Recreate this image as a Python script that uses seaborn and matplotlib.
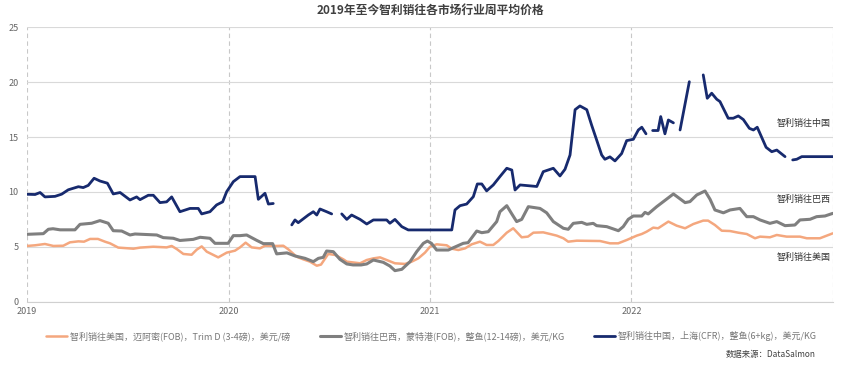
import numpy as np
import pandas as pd
import matplotlib
matplotlib.use("Agg")
import matplotlib.pyplot as plt
import seaborn as sns

# 时间轴用小数年份表示（2019.0 = 2019年初）
us_t = [2019.000, 2019.040, 2019.089, 2019.131, 2019.180, 2019.213, 2019.255, 2019.283, 2019.313, 2019.352,
        2019.387, 2019.412, 2019.453, 2019.528, 2019.561, 2019.627, 2019.693, 2019.718, 2019.743, 2019.776,
        2019.817, 2019.842, 2019.867, 2019.892, 2019.925, 2019.949, 2019.991, 2020.032, 2020.057, 2020.085,
        2020.115, 2020.156, 2020.181, 2020.239, 2020.272, 2020.297, 2020.338, 2020.371, 2020.404, 2020.438,
        2020.459, 2020.495, 2020.529, 2020.570, 2020.587, 2020.653, 2020.686, 2020.719, 2020.752, 2020.785,
        2020.826, 2020.876, 2020.909, 2020.942, 2020.975, 2021.000, 2021.033, 2021.083, 2021.108, 2021.141,
        2021.174, 2021.207, 2021.248, 2021.281, 2021.314, 2021.339, 2021.381, 2021.413, 2021.455, 2021.486,
        2021.513, 2021.562, 2021.596, 2021.629, 2021.662, 2021.686, 2021.728, 2021.844, 2021.893, 2021.934,
        2021.976, 2022.026, 2022.051, 2022.075, 2022.108, 2022.132, 2022.183, 2022.224, 2022.266, 2022.307,
        2022.356, 2022.380, 2022.414, 2022.448, 2022.489, 2022.530, 2022.572, 2022.613, 2022.638, 2022.687,
        2022.721, 2022.770, 2022.836, 2022.870, 2022.935, 2022.969, 2022.999]
us_v = [5.08, 5.14, 5.26, 5.08, 5.10, 5.41, 5.50, 5.47, 5.72, 5.72,
        5.47, 5.32, 4.93, 4.83, 4.93, 5.01, 4.95, 5.08, 4.80, 4.35,
        4.28, 4.74, 5.04, 4.56, 4.26, 4.04, 4.47, 4.65, 4.95, 5.38,
        4.95, 4.86, 5.10, 5.08, 5.10, 4.77, 4.10, 3.86, 3.65, 3.28,
        3.38, 4.35, 4.26, 3.86, 3.65, 3.50, 3.80, 3.95, 4.04, 3.80,
        3.50, 3.44, 3.65, 3.95, 4.47, 5.01, 5.23, 5.14, 4.83, 4.71,
        4.86, 5.23, 5.47, 5.17, 5.17, 5.53, 6.29, 6.69, 5.87, 5.93,
        6.29, 6.32, 6.17, 6.02, 5.78, 5.47, 5.56, 5.53, 5.32, 5.32,
        5.62, 6.02, 6.17, 6.38, 6.75, 6.69, 7.30, 6.93, 6.69, 7.08,
        7.39, 7.39, 6.99, 6.47, 6.44, 6.29, 6.17, 5.78, 5.93, 5.87,
        6.08, 5.93, 5.93, 5.78, 5.78, 6.02, 6.23]

br_t = [2019.000, 2019.081, 2019.106, 2019.129, 2019.164, 2019.238, 2019.263, 2019.321, 2019.362, 2019.403,
        2019.428, 2019.470, 2019.511, 2019.536, 2019.644, 2019.676, 2019.726, 2019.759, 2019.825, 2019.859,
        2019.908, 2019.933, 2019.998, 2020.024, 2020.057, 2020.090, 2020.140, 2020.173, 2020.219, 2020.239,
        2020.290, 2020.330, 2020.380, 2020.421, 2020.446, 2020.470, 2020.487, 2020.520, 2020.553, 2020.587,
        2020.618, 2020.658, 2020.686, 2020.719, 2020.768, 2020.801, 2020.826, 2020.860, 2020.901, 2020.934,
        2020.967, 2020.987, 2021.007, 2021.033, 2021.091, 2021.116, 2021.165, 2021.189, 2021.232, 2021.257,
        2021.289, 2021.331, 2021.347, 2021.381, 2021.406, 2021.430, 2021.455, 2021.488, 2021.546, 2021.579,
        2021.612, 2021.662, 2021.686, 2021.711, 2021.753, 2021.778, 2021.810, 2021.827, 2021.877, 2021.910,
        2021.935, 2021.959, 2021.984, 2022.009, 2022.051, 2022.067, 2022.083, 2022.125, 2022.158, 2022.208,
        2022.266, 2022.290, 2022.324, 2022.365, 2022.390, 2022.414, 2022.456, 2022.489, 2022.538, 2022.572,
        2022.605, 2022.638, 2022.687, 2022.721, 2022.762, 2022.811, 2022.836, 2022.886, 2022.919, 2022.960,
        2022.999]
br_v = [6.14, 6.20, 6.60, 6.65, 6.55, 6.55, 7.05, 7.15, 7.39, 7.15,
        6.47, 6.44, 6.08, 6.17, 6.08, 5.84, 5.78, 5.58, 5.68, 5.87,
        5.78, 5.32, 5.32, 6.02, 6.02, 6.08, 5.59, 5.29, 5.29, 4.36,
        4.45, 4.17, 3.95, 3.65, 3.95, 4.04, 4.62, 4.56, 3.86, 3.44,
        3.35, 3.35, 3.44, 3.80, 3.59, 3.25, 2.83, 2.95, 3.65, 4.56,
        5.32, 5.53, 5.32, 4.71, 4.71, 4.92, 5.32, 5.38, 6.44, 6.29,
        6.38, 7.30, 8.20, 8.75, 8.00, 7.30, 7.50, 8.66, 8.50, 8.10,
        7.30, 6.69, 6.60, 7.14, 7.23, 7.05, 7.14, 6.93, 6.84, 6.63,
        6.47, 6.84, 7.51, 7.81, 7.81, 8.14, 8.00, 8.66, 9.12, 9.82,
        9.03, 9.12, 9.73, 10.09, 9.33, 8.36, 8.10, 8.36, 8.50, 7.75,
        7.75, 7.45, 7.14, 7.30, 6.93, 6.99, 7.45, 7.51, 7.75, 7.81,
        8.05]

# 中国线有缺失周，用 NaN 断开
cn_t = [2019.000, 2019.040, 2019.065, 2019.089, 2019.139, 2019.172, 2019.205, 2019.255, 2019.279, 2019.304,
        2019.333, 2019.362, 2019.399, 2019.428, 2019.462, 2019.511, 2019.544, 2019.561, 2019.602, 2019.627,
        2019.660, 2019.693, 2019.718, 2019.759, 2019.809, 2019.850, 2019.867, 2019.908, 2019.941, 2019.971,
        2019.991, 2020.024, 2020.057, 2020.132, 2020.148, 2020.181, 2020.198, 2020.222, 2020.260,
        2020.314, 2020.330, 2020.346, 2020.396, 2020.421, 2020.438, 2020.454, 2020.487, 2020.512, 2020.540,
        2020.562, 2020.587, 2020.611, 2020.653, 2020.686, 2020.719, 2020.785, 2020.801, 2020.826, 2020.860,
        2020.892, 2021.108, 2021.124, 2021.149, 2021.182, 2021.215, 2021.235, 2021.257, 2021.281, 2021.314,
        2021.347, 2021.381, 2021.406, 2021.422, 2021.447, 2021.530, 2021.562, 2021.612, 2021.645, 2021.670,
        2021.695, 2021.720, 2021.744, 2021.778, 2021.802, 2021.827, 2021.852, 2021.868, 2021.893, 2021.918,
        2021.951, 2021.976, 2022.009, 2022.034, 2022.051, 2022.072, 2022.088,
        2022.105, 2022.132, 2022.145, 2022.166, 2022.183, 2022.208, 2022.225,
        2022.241, 2022.287, 2022.320,
        2022.356, 2022.376, 2022.398, 2022.423, 2022.439, 2022.480, 2022.505, 2022.530, 2022.555, 2022.585,
        2022.605, 2022.624, 2022.668, 2022.696, 2022.721, 2022.762, 2022.780,
        2022.800, 2022.820, 2022.845, 2022.999]
cn_v = [9.79, 9.77, 9.95, 9.55, 9.60, 9.80, 10.20, 10.48, 10.40, 10.60,
        11.25, 11.00, 10.80, 9.82, 9.95, 9.27, 9.55, 9.30, 9.70, 9.70,
        9.03, 9.10, 9.55, 8.20, 8.50, 8.50, 8.00, 8.20, 8.82, 9.10,
        10.03, 10.94, 11.40, 11.40, 9.33, 9.88, 8.90, 8.95, np.nan,
        7.00, 7.45, 7.20, 7.90, 8.20, 7.90, 8.45, 8.20, 8.00, np.nan,
        8.00, 7.50, 7.90, 7.50, 7.08, 7.45, 7.45, 7.15, 7.50, 6.84,
        6.54, 6.54, 8.36, 8.75, 8.90, 9.57, 10.73, 10.73, 10.10, 10.64,
        11.40, 12.16, 12.00, 10.18, 10.64, 10.50, 11.85, 12.16, 11.46, 12.07,
        13.37, 17.50, 17.84, 17.50, 16.10, 14.74, 13.37, 12.98, 13.20, 12.83,
        13.50, 14.68, 14.80, 15.65, 15.90, 15.30, np.nan,
        15.60, 15.60, 16.87, 15.30, 16.56, 16.30, np.nan,
        15.65, 20.05, np.nan,
        20.67, 18.54, 19.00, 18.45, 18.24, 16.72, 16.72, 16.93, 16.60, 15.80,
        15.65, 15.90, 14.07, 13.67, 13.82, 13.22, np.nan,
        12.92, 12.98, 13.22, 13.22]

years = [2019, 2020, 2021, 2022, 2023]
year_labels = ["2019", "2020", "2021", "2022", ""]

us_name = "智利销往美国，迈阿密(FOB)，Trim D (3-4磅)，美元/磅"
br_name = "智利销往巴西，蒙特港(FOB)，整鱼(12-14磅)，美元/KG"
cn_name = "智利销往中国，上海(CFR)，整鱼(6+kg)，美元/KG"

c_us = "#F4A77E"
c_br = "#7F7F7F"
c_cn = "#172A6E"

sns.set_style("white")
plt.rcParams["font.family"] = ["Noto Sans CJK SC", "DejaVu Sans"]

df_us = pd.DataFrame({"t": us_t, "v": us_v})
df_br = pd.DataFrame({"t": br_t, "v": br_v})
df_cn = pd.DataFrame({"t": cn_t, "v": cn_v})
df_cn["seg"] = df_cn["v"].isna().cumsum()
df_cn = df_cn.dropna()

fig = plt.figure(figsize=(8.6, 3.7), dpi=100)
ax = fig.add_axes([0.0314, 0.1846, 0.9372, 0.7414])

sns.lineplot(data=df_us, x="t", y="v", color=c_us, lw=1.8, ax=ax, label=us_name)
sns.lineplot(data=df_br, x="t", y="v", color=c_br, lw=2.2, ax=ax, label=br_name)
sns.lineplot(data=df_cn, x="t", y="v", units="seg", estimator=None, color=c_cn, lw=2.0, ax=ax)
ax.plot([], [], color=c_cn, lw=2.0, label=cn_name)

ax.set_xlim(2019, 2023)
ax.set_ylim(0, 25)
ax.set_xticks(years)
ax.set_xticklabels(year_labels)
ax.set_yticks([0, 5, 10, 15, 20, 25])
ax.set_xlabel("")
ax.set_ylabel("")
ax.grid(axis="y", color="#D9D9D9", lw=0.8)
ax.grid(axis="x", color="#C8C8C8", lw=0.8, ls=(0, (4, 3)))
ax.set_axisbelow(True)
for s in ["top", "right", "left"]:
    ax.spines[s].set_visible(False)
ax.spines["bottom"].set_color("#D0D0D0")
ax.tick_params(length=0, labelsize=6.5, colors="#666666")
ax.tick_params(axis="y", pad=6)
ax.tick_params(axis="x", pad=4)

# 右侧系列标注
tr = ax.get_yaxis_transform()
for y, txt in [(16.26, "智利销往中国"), (9.33, "智利销往巴西"), (4.01, "智利销往美国")]:
    ax.text(0.997, y, txt, transform=tr, ha="right", va="center", fontsize=6.5, color="#333333")

ax.get_legend().remove()
h, l = ax.get_legend_handles_labels()
leg = fig.legend(h, l, loc="center", bbox_to_anchor=(0.502, 0.092), ncol=3, frameon=False,
                 fontsize=6.5, handlelength=2.3, columnspacing=3.3, handletextpad=0.3)
for t in leg.get_texts():
    t.set_color("#777777")

fig.text(0.5, 0.972, "2019年至今智利销往各市场行业周平均价格", ha="center", va="center",
         fontsize=8.5, fontweight="bold", color="#404040")
fig.text(0.948, 0.043, "数据来源：DataSalmon", ha="right", va="center", fontsize=6, color="#404040")

fig.savefig("out.png", dpi=100)
